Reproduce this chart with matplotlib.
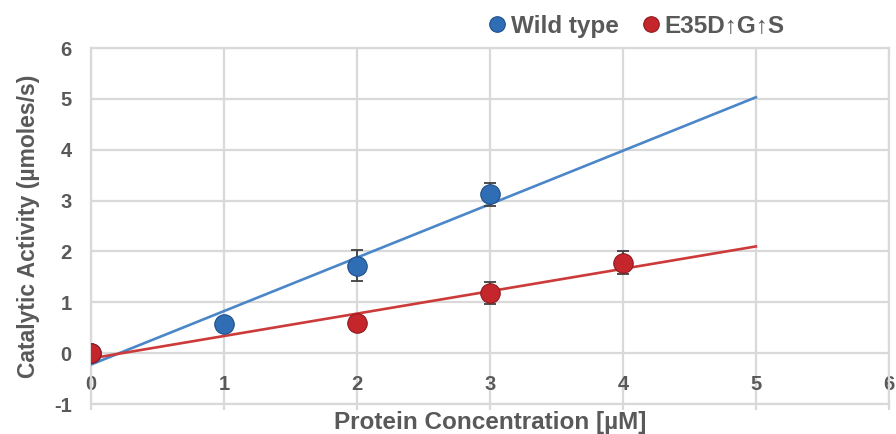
import matplotlib
matplotlib.use("Agg")
import matplotlib.pyplot as plt
import numpy as np

plt.rcParams['font.family'] = ['Liberation Sans', 'DejaVu Sans']
plt.rcParams['font.weight'] = 'bold'
plt.rcParams['axes.unicode_minus'] = False

# data
conc_wt = [0, 1, 2, 3]
act_wt = [0, 0.57, 1.72, 3.12]
err_wt = [0, 0, 0.30, 0.23]

conc_mut = [0, 2, 3, 4]
act_mut = [0, 0.59, 1.18, 1.78]
err_mut = [0, 0, 0.22, 0.23]

labels = ["Wild type", "E35D\u2191G\u2191S"]
blue = "#2F6DB5"
red = "#C4262C"
blue_line = "#4A86C8"
red_line = "#CC3A3A"
txt = "#595959"
grid_c = "#D9D9D9"

fig = plt.figure(figsize=(8.96, 4.34), dpi=100)
ax = fig.add_axes([0.1016, 0.0691, 0.8904, 0.8203])

# linear trend lines
xfit = np.array([0, 5])
p_wt = np.polyfit(conc_wt, act_wt, 1)
p_mut = np.polyfit(conc_mut, act_mut, 1)
ax.plot(xfit, np.polyval(p_wt, xfit), color=blue_line, lw=1.9, zorder=3)
ax.plot(xfit, np.polyval(p_mut, xfit), color=red_line, lw=1.9, zorder=3)

ax.errorbar(conc_wt, act_wt, yerr=err_wt, fmt='none', ecolor="#404040",
            elinewidth=1.3, capsize=4, capthick=1.3, zorder=4)
ax.errorbar(conc_mut, act_mut, yerr=err_mut, fmt='none', ecolor="#404040",
            elinewidth=1.3, capsize=4, capthick=1.3, zorder=4)
ax.plot(conc_wt, act_wt, 'o', ms=14, color=blue, mec="#1F4E8A", mew=0.8,
        zorder=5, label=labels[0])
ax.plot(conc_mut, act_mut, 'o', ms=14, color=red, mec="#8E1A1E", mew=0.8,
        zorder=6, label=labels[1])

ax.set_xlim(0, 6)
ax.set_ylim(-1, 6)
ax.set_xticks(range(0, 7))
ax.set_yticks(range(-1, 7))
ax.grid(True, color=grid_c, lw=1.6)
ax.set_axisbelow(True)
for s in ax.spines.values():
    s.set_color(grid_c)
    s.set_linewidth(1.6)

ax.tick_params(axis='y', length=0, pad=14, labelsize=14.5, labelcolor=txt)
ax.tick_params(axis='x', length=4, width=1.6, color=grid_c, direction='out',
               pad=-25, labelsize=14.5, labelcolor=txt)
for t in ax.get_xticklabels() + ax.get_yticklabels():
    t.set_fontweight('bold')

ax.set_xlabel("Protein Concentration [\u00b5M]", fontsize=17.5, fontweight='bold',
              color=txt, labelpad=1)
ax.set_ylabel("Catalytic Activity (\u00b5moles/s)", fontsize=16.5, fontweight='bold',
              color=txt, labelpad=10)

leg = fig.legend(loc='center', bbox_to_anchor=(0.708, 0.94), ncol=2, frameon=False,
                 fontsize=17.5, handletextpad=0.0, columnspacing=0.8,
                 handlelength=1.1, markerscale=0.8)
for t in leg.get_texts():
    t.set_color(txt)
    t.set_fontweight('bold')

fig.savefig("out.png", dpi=100)
